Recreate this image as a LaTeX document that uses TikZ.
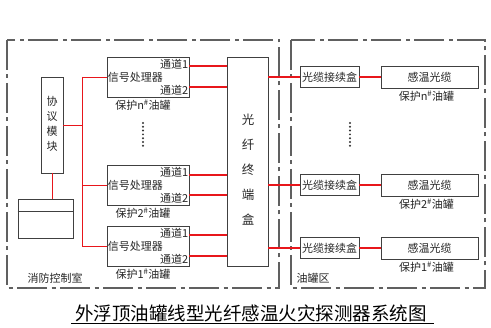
\documentclass[tikz,border=0pt]{standalone}
\usepackage{fontspec}
\setmainfont{Noto Sans CJK SC}
\usetikzlibrary{positioning,calc}
\definecolor{linegray}{RGB}{64,64,64}
\definecolor{zonegray}{RGB}{96,96,96}
\definecolor{cablered}{RGB}{232,22,27}
\tikzset{
  box/.style={draw=linegray,line width=0.9pt,inner sep=0pt},
  txt/.style={font=\fontsize{11}{13}\selectfont,inner sep=1pt,text=black!85},
  zone/.style={draw=zonegray,line width=1.1pt,dash pattern=on 30pt off 4.5pt on 4pt off 4.5pt},
  thinred/.style={draw=cablered,line width=0.9pt},
  thickred/.style={draw=cablered,line width=1.6pt}
}
\begin{document}
\begin{tikzpicture}[x=1pt,y=-1pt]
\useasboundingbox (0,0) rectangle (491,328);
% zones
\draw[zone] (7,40) rectangle (279,288);
\draw[zone] (291,40) rectangle (485,288);
\node[txt] (room) at (55,278) {消防控制室};
\node[txt] (tankzone) at (313,278) {油罐区};

% control room
\node[box,minimum width=22,minimum height=96] (proto) at (52,125) {};
\node[txt,align=center,font=\fontsize{11}{15}\selectfont] (protot) at (52,124) {协\\议\\模\\块};
\node[box,minimum width=55,minimum height=39] (host) at (45.5,218.5) {};
\draw[linegray,line width=0.9pt] ($(host.north west)!0.33!(host.south west)$) -- ($(host.north east)!0.33!(host.south east)$);
\draw[thinred] (proto.south) -- (proto.south |- host.north);

% signal processors
\foreach \k/\y in {n/77,2/185,1/246}{
  \node[box,minimum width=82,minimum height=40] (sp\k) at (148,\y) {};
  \node[txt,anchor=west] (spt\k) at (sp\k.west) {信号处理器};
  \node[txt,anchor=north east] (cha\k) at ($(sp\k.north east)+(0,1)$) {通道1};
  \node[txt,anchor=south east] (chb\k) at ($(sp\k.south east)+(0,-1)$) {通道2};
  \node[txt,below=1pt of sp\k,xshift=-5] (lab\k) {保护\k\textsuperscript{\#}油罐};
}
\coordinate (bus) at (82,125);
\draw[thinred] (proto.east) -- (proto.east -| bus);
\draw[thinred] (spn.west -| bus) -- (sp1.west -| bus);
\draw[thinred] (spn.west -| bus) -- (spn.west);
\draw[thinred] (sp2.west -| bus) -- (sp2.west);
\draw[thinred] (sp1.west -| bus) -- (sp1.west);

% fibre terminal box
\node[box,minimum width=41,minimum height=209] (term) at (247.5,161.5) {};
\node[txt,align=center,font=\fontsize{12.5}{25}\selectfont] (termt) at (248,170) {光\\纤\\终\\端\\盒};
\coordinate (pan) at (189,66);
\coordinate (pbn) at (189,87);
\coordinate (pa2) at (189,175);
\coordinate (pb2) at (189,195);
\coordinate (pa1) at (189,235);
\coordinate (pb1) at (189,256);
\draw[thickred] (pan) -- (pan -| term.west);
\draw[thickred] (pbn) -- (pbn -| term.west);
\draw[thickred] (pa2) -- (pa2 -| term.west);
\draw[thickred] (pb2) -- (pb2 -| term.west);
\draw[thickred] (pa1) -- (pa1 -| term.west);
\draw[thickred] (pb1) -- (pb1 -| term.west);

% tank zone
\foreach \k/\y in {n/77,2/185,1/248}{
  \node[box,minimum width=59,minimum height=21] (joint\k) at (329.5,\y) {};
  \node[txt] (jointt\k) at (joint\k) {光缆接续盒};
  \node[box,minimum width=97,minimum height=22] (sens\k) at (429.5,\y) {};
  \node[txt] (senst\k) at (sens\k) {感温光缆};
  \node[txt,below=1pt of sens\k,xshift=-3] (tank\k) {保护\k\textsuperscript{\#}油罐};
}
\draw[thickred] (term.east |- jointn.west) -- (jointn.west);
\draw[thickred] (term.east |- joint2.west) -- (joint2.west);
\draw[thickred] (term.east |- joint1.west) -- (joint1.west);
\draw[thickred] (jointn.east) -- (sensn.west);
\draw[thickred] (joint2.east) -- (sens2.west);
\draw[thickred] (joint1.east) -- (sens1.west);

% dots
\foreach \i in {0,...,6}{
  \fill[black!80] (143,123+3.8*\i) circle (1.1);
  \fill[black!80] (350,123+3.8*\i) circle (1.1);
}

% title
\node[font=\fontsize{18.5}{20}\selectfont,inner sep=1pt] (title) at (251,313) {外浮顶油罐线型光纤感温火灾探测器系统图};
\draw[black,line width=1pt] ($(title.south west)+(-3,1)$) -- ($(title.south east)+(6,1)$);
\end{tikzpicture}
\end{document}
